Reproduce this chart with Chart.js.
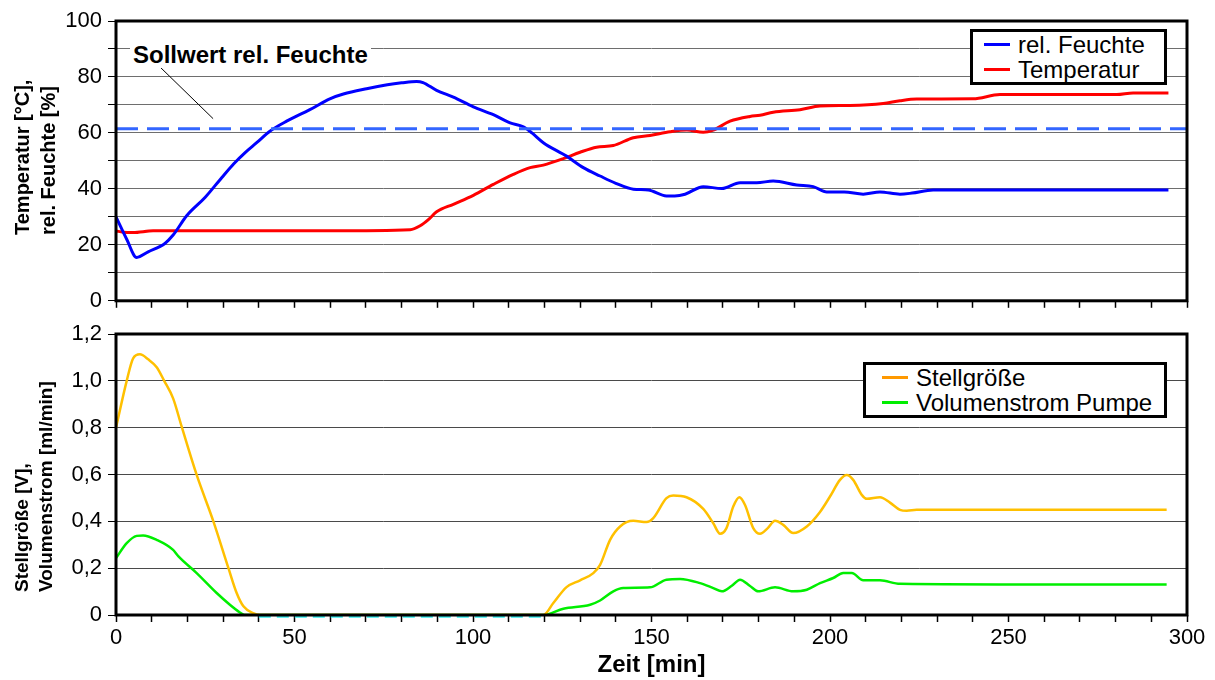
<!DOCTYPE html>
<html lang="de">
<head>
<meta charset="utf-8">
<title>Feuchte, Temperatur und Stellgröße</title>
<script src="https://cdn.jsdelivr.net/npm/chart.js@4.4.1/dist/chart.umd.min.js"></script>
<style>
  body { margin: 0; background: #fff; font-family: 'Liberation Sans', Arial, sans-serif; }
  #wrap { position: relative; width: 1215px; height: 680px; overflow: hidden; }
  canvas { position: absolute; left: 0; }
  #cTop { top: 0; }
  #cBottom { top: 310px; }
  .ytitle { position: absolute; writing-mode: vertical-rl; transform: rotate(180deg); font-weight: bold; text-align: start; white-space: nowrap; color: #000; }
  .legend { position: absolute; box-sizing: border-box; border: 3px solid #000; background: #fff; font-size: 24px; color: #000; }
  .legend .row { display: flex; align-items: center; white-space: nowrap; }
  .legend .swatch { display: inline-block; width: 26px; height: 3px; margin-right: 8px; }
  #note { position: absolute; left: 130px; top: 41px; padding: 0 3px; background: #fff; font-weight: bold; font-size: 24px; line-height: 27px; white-space: nowrap; }
</style>
</head>
<body>
<div id="wrap">
  <canvas id="cTop" width="1215" height="320"></canvas>
  <canvas id="cBottom" width="1215" height="370"></canvas>

  <div class="ytitle" style="left:9px; top:21px; height:214px; width:52px; font-size:20px; line-height:26px;">Temperatur [°C],<br>rel. Feuchte [%]</div>
  <div class="ytitle" style="left:10px; top:334px; height:258px; width:48px; font-size:19px; line-height:24px;">Stellgröße [V],<br>Volumenstrom [ml/min]</div>

  <div id="note">Sollwert rel. Feuchte</div>

  <div class="legend" style="left:970px; top:29px; width:197px; height:56px; padding-left:11px;">
    <div class="row" style="height:25px;"><span class="swatch" style="background:#0000ff"></span>rel. Feuchte</div>
    <div class="row" style="height:25px;"><span class="swatch" style="background:#ff0000"></span>Temperatur</div>
  </div>
  <div class="legend" style="left:863px; top:362px; width:304px; height:56px; padding-left:16px;">
    <div class="row" style="height:25px;"><span class="swatch" style="background:#ff9900"></span>Stellgröße</div>
    <div class="row" style="height:25px;"><span class="swatch" style="background:#00ee00"></span>Volumenstrom Pumpe</div>
  </div>
</div>

<script>
// Zeit [min] und Werte
const feuchteZeit = [0, 3, 5.8, 9, 13.7, 16, 19.8, 25, 29.6, 33, 36.1, 39.4, 43.1, 47.8, 54.3, 59.9, 63.7, 70.2, 76, 80, 84.2, 86, 89.8, 94.5, 100.1, 105.7, 110.4, 114.1, 116.5, 119.7, 126.2, 130.9, 135.6, 140, 144.9, 149.1, 154.2, 156.5, 159.4, 164.5, 169.7, 174.8, 179.5, 184.1, 190.7, 195.3, 199.1, 204, 209.3, 214, 219.6, 223, 228.9, 250, 275, 294.8];
const feuchteWerte = [30, 22, 15.5, 17.5, 20.5, 23.5, 30.4, 37, 44, 49, 52.9, 56.5, 60.6, 64.2, 68.3, 72.2, 73.9, 75.8, 77.2, 77.9, 78.4, 78, 75.2, 72.8, 69.3, 66.5, 63.6, 62.2, 60, 56.5, 51.7, 47.6, 44.6, 42, 39.9, 39.6, 37.5, 37.5, 38.1, 40.8, 40.1, 42.2, 42.2, 42.8, 41.4, 40.8, 38.9, 38.9, 38.1, 38.9, 38.1, 38.5, 39.6, 39.6, 39.6, 39.6];

const tempZeit = [0, 2, 4.8, 10.4, 20, 40, 60, 82.4, 85.2, 87.5, 89.8, 94.5, 100.1, 105.7, 111.3, 116, 119.7, 125.3, 130, 134.6, 139.3, 144.9, 149.6, 155.2, 159.9, 164.5, 167.3, 172, 177.6, 180.4, 184.1, 191.6, 197.2, 205.6, 214.9, 219.6, 224.3, 240.1, 247.6, 280.3, 284.9, 294.8];
const tempWerte = [25, 24.5, 24.4, 25, 25, 25, 25, 25.4, 26.8, 29, 31.8, 34.5, 37.7, 41.6, 45.2, 47.6, 48.5, 50.8, 53.1, 54.9, 55.5, 58.3, 59.1, 60.4, 61, 60.2, 61, 64.2, 65.9, 66.3, 67.4, 68.3, 69.6, 69.8, 70.5, 71.5, 72.1, 72.2, 73.7, 73.7, 74.3, 74.3];

const sollZeit = [0, 300];
const sollWerte = [61.5, 61.5];

const stellZeit = [0, 3, 4.8, 6.7, 9, 11.4, 13.5, 16, 18.4, 22.6, 27.3, 31.5, 33.8, 35.7, 38.4, 40.3, 80, 119.7, 122.5, 126.2, 130, 133.7, 135.6, 138.4, 141.2, 144.9, 148.6, 150.5, 154.2, 156.1, 159.8, 164.5, 167.3, 169.2, 171, 172.9, 174.6, 176.2, 178.5, 180.4, 182.5, 184.6, 186.9, 189.7, 193.5, 197.2, 200, 202.8, 204.7, 206.5, 208.9, 210.3, 214, 216.8, 219.6, 221.5, 224.3, 260, 294.3];
const stellWerte = [0.8, 1.0, 1.096, 1.113, 1.092, 1.058, 1.0, 0.925, 0.804, 0.598, 0.399, 0.2, 0.094, 0.037, 0.008, 0, 0, 0, 0.051, 0.119, 0.148, 0.179, 0.214, 0.321, 0.378, 0.402, 0.397, 0.414, 0.499, 0.51, 0.503, 0.453, 0.392, 0.347, 0.371, 0.463, 0.503, 0.47, 0.371, 0.347, 0.37, 0.402, 0.385, 0.35, 0.378, 0.44, 0.506, 0.577, 0.598, 0.577, 0.513, 0.496, 0.503, 0.48, 0.449, 0.445, 0.449, 0.449, 0.449];

const pumpeZeit = [0, 3, 5.8, 7.6, 11.4, 16, 17.5, 22.6, 28.2, 31.9, 34.7, 36, 80, 119.7, 125.3, 132.8, 135.6, 139.3, 142.1, 149.6, 154.2, 158, 163.6, 167.3, 169.7, 172.5, 174.8, 177.5, 179.9, 184.6, 189.7, 193.5, 197.2, 200.9, 203.7, 206.1, 209.3, 214, 219.6, 260, 294.3];
const pumpeWerte = [0.243, 0.307, 0.338, 0.34, 0.321, 0.278, 0.25, 0.179, 0.094, 0.044, 0.011, 0, 0, 0, 0.027, 0.044, 0.062, 0.101, 0.115, 0.118, 0.151, 0.154, 0.136, 0.115, 0.101, 0.125, 0.151, 0.125, 0.101, 0.118, 0.101, 0.108, 0.136, 0.158, 0.179, 0.179, 0.148, 0.148, 0.133, 0.13, 0.13];

// schwache cyanfarbene Linie knapp unter der Nulllinie
const nullZeit = [40, 120];
const nullWerte = [-0.008, -0.008];

const tickFont = { family: "'Liberation Sans', Arial, sans-serif", size: 22 };

function toXY(xs, ys) {
    return xs.map((x, i) => ({ x: x, y: ys[i] }));
}

// Rahmen um die Zeichenfläche
const frame = {
    id: 'frame',
    afterDraw(chart) {
        const a = chart.chartArea;
        const ctx = chart.ctx;
        ctx.save();
        ctx.strokeStyle = '#000';
        ctx.lineWidth = 3;
        ctx.strokeRect(a.left, a.top, a.right - a.left, a.bottom - a.top);
        ctx.restore();
    }
};

// Hinweislinie von der Beschriftung zum Sollwert
const leader = {
    id: 'leader',
    afterDraw(chart) {
        const xs = chart.scales.x, ys = chart.scales.y;
        const ctx = chart.ctx;
        ctx.save();
        ctx.strokeStyle = '#000';
        ctx.lineWidth = 1;
        ctx.beginPath();
        ctx.moveTo(xs.getPixelForValue(12.3), ys.getPixelForValue(83.6));
        ctx.lineTo(xs.getPixelForValue(27.2), ys.getPixelForValue(65.1));
        ctx.stroke();
        ctx.restore();
    }
};

function xScale(showLabels, height) {
    return {
        type: 'linear', min: 0, max: 300,
        afterFit: s => { s.height = height; },
        ticks: {
            stepSize: 10, autoSkip: false, maxRotation: 0, padding: 3,
            font: tickFont, color: '#000',
            callback: v => (showLabels && v % 50 === 0) ? String(v) : ''
        },
        grid: { drawOnChartArea: false, tickLength: 7, tickColor: '#000', tickWidth: 1.5 },
        border: { display: false }
    };
}

const baseOptions = {
    responsive: false,
    animation: false,
    elements: { point: { radius: 0 }, line: { cubicInterpolationMode: 'monotone' } },
    plugins: { legend: { display: false }, tooltip: { enabled: false } }
};

new Chart(document.getElementById('cTop'), {
    type: 'line',
    data: {
        datasets: [
            { label: 'Sollwert rel. Feuchte', data: toXY(sollZeit, sollWerte), borderColor: '#3366ff', borderWidth: 3, borderDash: [22, 9] },
            { label: 'rel. Feuchte', data: toXY(feuchteZeit, feuchteWerte), borderColor: '#0000ff', borderWidth: 3 },
            { label: 'Temperatur', data: toXY(tempZeit, tempWerte), borderColor: '#ff0000', borderWidth: 3 }
        ]
    },
    options: Object.assign({}, baseOptions, {
        layout: { padding: { top: 21, right: 28, left: 0, bottom: 0 } },
        scales: {
            x: xScale(false, 18),
            y: {
                min: 0, max: 100,
                afterFit: s => { s.width = 116; },
                ticks: { stepSize: 10, autoSkip: false, padding: 6, font: tickFont, color: '#000',
                    callback: v => v % 20 === 0 ? String(v) : '' },
                grid: { color: '#6e6e6e', lineWidth: 1, tickLength: 8, tickColor: '#000' },
                border: { display: false }
            }
        }
    }),
    plugins: [frame, leader]
});

new Chart(document.getElementById('cBottom'), {
    type: 'line',
    data: {
        datasets: [
            { label: 'Stellgröße', data: toXY(stellZeit, stellWerte), borderColor: '#ffc000', borderWidth: 2.5 },
            { label: 'Volumenstrom Pumpe', data: toXY(pumpeZeit, pumpeWerte), borderColor: '#00ee00', borderWidth: 2.5 },
            { label: 'Null', data: toXY(nullZeit, nullWerte), borderColor: '#33eeee', borderWidth: 2, borderDash: [12, 6], clip: false }
        ]
    },
    options: Object.assign({}, baseOptions, {
        layout: { padding: { top: 24, right: 28, left: 0, bottom: 0 } },
        scales: {
            x: Object.assign(xScale(true, 65), {
                title: { display: true, text: 'Zeit [min]', color: '#000',
                    font: { family: "'Liberation Sans', Arial, sans-serif", size: 24, weight: 'bold' },
                    padding: { top: 0, bottom: 0 } }
            }),
            y: {
                min: 0, max: 1.2,
                afterFit: s => { s.width = 116; },
                ticks: { stepSize: 0.2, autoSkip: false, padding: 6, font: tickFont, color: '#000',
                    callback: v => Math.abs(v) < 1e-9 ? '0' : v.toFixed(1).replace('.', ',') },
                grid: { color: '#4a4a4a', lineWidth: 1, tickLength: 8, tickColor: '#000' },
                border: { display: false }
            }
        }
    }),
    plugins: [frame]
});
</script>
</body>
</html>
